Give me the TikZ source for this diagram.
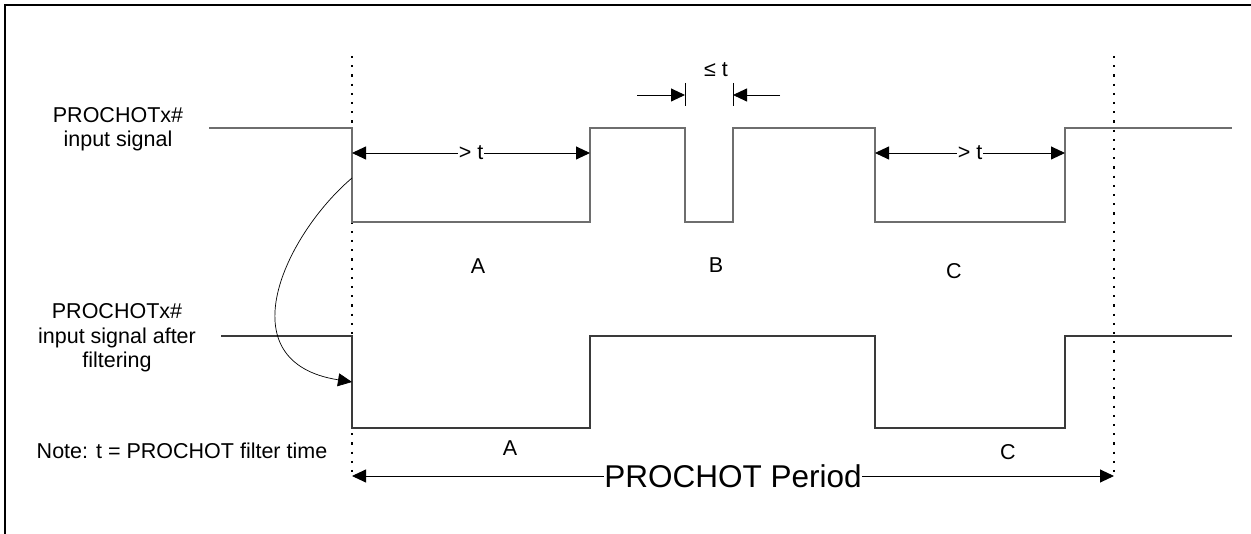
\documentclass[tikz,border=0pt]{standalone}
\usepackage{fontspec}
\setmainfont{Liberation Sans}
\usetikzlibrary{arrows.meta}
\definecolor{sigtop}{HTML}{6E6E6E}
\definecolor{sigbot}{HTML}{3A3A3A}
\begin{document}
\begin{tikzpicture}[x=1pt,y=-1pt,
	sig/.style={line width=1.6pt},
	dots/.style={line width=2.2pt, dash pattern=on 2.2pt off 7pt},
	dim/.style={line width=0.9pt, {Triangle[length=14pt,width=13pt]}-{Triangle[length=14pt,width=13pt]}},
	tip/.style={line width=0.9pt, -{Triangle[length=14pt,width=13pt]}},
	lbl/.style={font=\fontsize{21.5}{24.5}\selectfont, align=center, inner sep=1pt}]
	\useasboundingbox (0,0) rectangle (1251,534);
	% Frame
	\draw[line width=2.5pt] (5,534) -- (5,5) -- (1251,5);
	% Dotted period bounds
	\draw[dots] (352,56) -- (352,478);
	\draw[dots] (1114,56) -- (1114,478);
	% Input signal
	\draw[sig, sigtop] (209,128) -- (352,128) -- (352,222) -- (590,222) -- (590,128)
		-- (685,128) -- (685,222) -- (733,222) -- (733,128) -- (875,128) -- (875,222)
		-- (1065,222) -- (1065,128) -- (1232,128);
	% Filtered signal
	\draw[line width=1.2pt, sigbot] (221,336) -- (352,336) -- (352,428) -- (590,428) -- (590,336)
		-- (875,336) -- (875,428) -- (1065,428) -- (1065,336) -- (1232,336);
	% Signal labels
	\node[lbl] (inTxt) at (118,129) {PROCHOTx\#\\input signal};
	\node[lbl] (filtTxt) at (117,338) {PROCHOTx\#\\input signal after\\filtering};
	\node[lbl] (noteTxt) at (182,451) {Note: t = PROCHOT filter time};
	% Region labels
	\node[lbl] (regA) at (478,266) {A};
	\node[lbl] (regB) at (716,265) {B};
	\node[lbl] (regC) at (954,271) {C};
	\node[lbl] (outA) at (510,448) {A};
	\node[lbl] (outC) at (1008,452) {C};
	% > t dimensions
	\coordinate (aL) at (352,153);
	\coordinate (aR) at (590,153);
	\coordinate (cL) at (875,153);
	\coordinate (cR) at (1065,153);
	\draw[dim] (aL) -- node[lbl, fill=white, inner sep=0.5pt] (gtA) {> t} (aR);
	\draw[dim] (cL) -- node[lbl, fill=white, inner sep=0.5pt] (gtC) {> t} (cR);
	% <= t dimension
	\coordinate (bL) at (685,95);
	\coordinate (bR) at (733,95);
	\coordinate (bLout) at (637,95);
	\coordinate (bRout) at (780,95);
	\draw[line width=0.9pt] (685,83) -- (685,106);
	\draw[line width=0.9pt] (733,83) -- (733,106);
	\draw[tip] (bLout) -- (bL);
	\draw[tip] (bRout) -- (bR);
	\node[lbl] (leT) at (716,70) {≤ t};
	% Curved arrow
	\coordinate (curS) at (352,178);
	\coordinate (curE) at (352,382);
	\draw[tip, line width=0.7pt] (curS) .. controls (285,235) and (225,362) .. (curE);
	% Period
	\coordinate (pL) at (352,476);
	\coordinate (pR) at (1114,476);
	\draw[dim] (pL) -- node[lbl, font=\fontsize{31.5}{34}\selectfont, fill=white, inner sep=0.5pt] (perTxt) {PROCHOT Period} (pR);
\end{tikzpicture}
\end{document}
